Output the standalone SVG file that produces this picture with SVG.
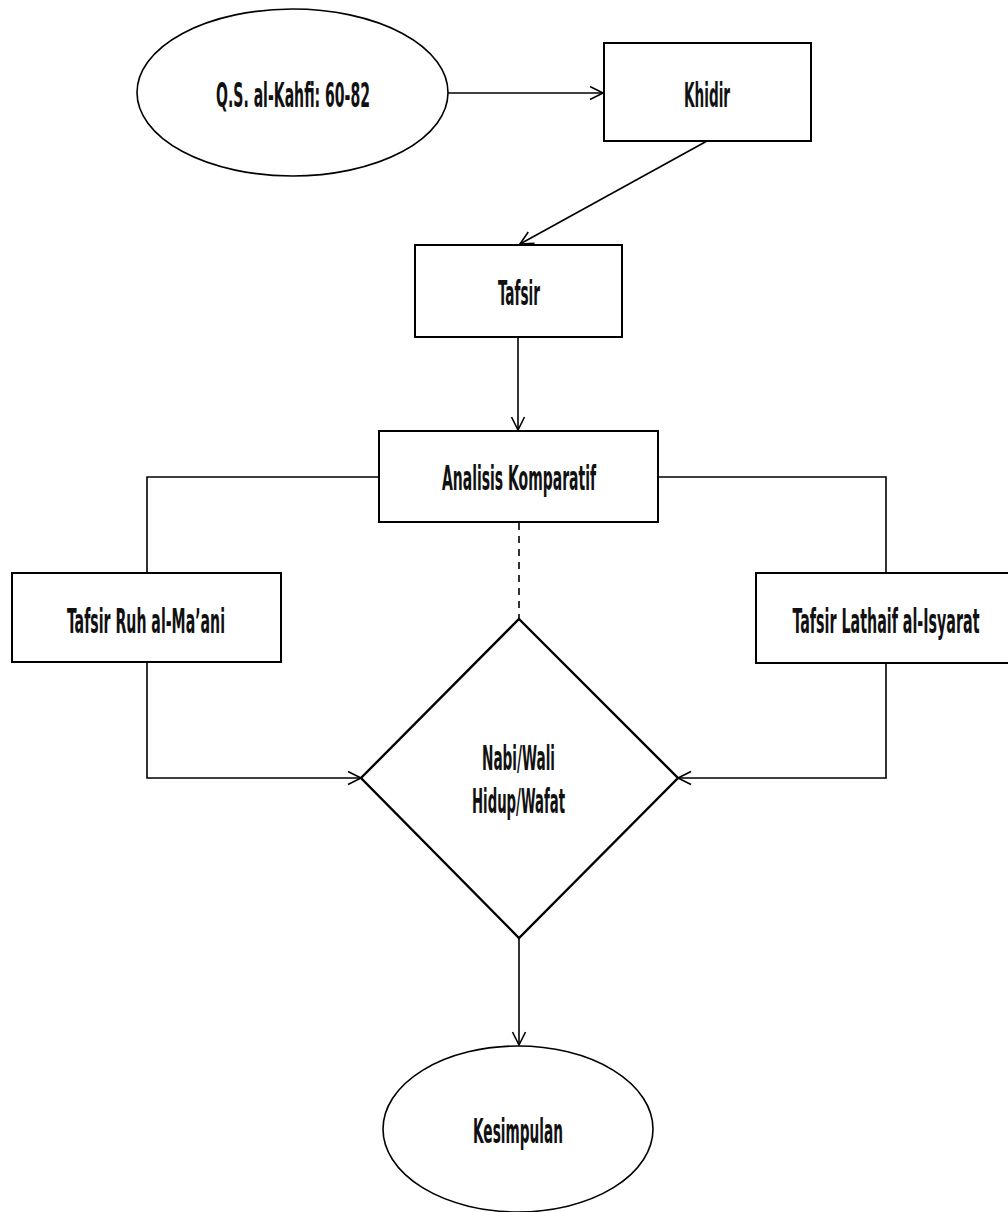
<svg xmlns="http://www.w3.org/2000/svg" width="1008" height="1212" viewBox="0 0 1008 1212">
<style>
.shape{fill:#fff;stroke:#000;stroke-width:2}
.ell{fill:#fff;stroke:#000;stroke-width:1.6}
.dia{fill:#fff;stroke:#000;stroke-width:2.4}
.conn{fill:none;stroke:#000;stroke-width:1.6}
.dash{stroke-dasharray:7 6}
.lbl{font-family:"DejaVu Sans Condensed","DejaVu Sans",sans-serif;font-weight:bold;font-size:33px;fill:#111;text-anchor:middle}
</style>
<defs>
<marker id="arr" markerUnits="userSpaceOnUse" markerWidth="16" markerHeight="16" refX="14" refY="7" orient="auto" overflow="visible">
<path d="M1,0.5 L14,7 L1,13.5" fill="none" stroke="#000" stroke-width="1.6"/>
</marker>
</defs>
<rect width="1008" height="1212" fill="#fff"/>
<g id="connectors">
<line class="conn" x1="448" y1="93" x2="603" y2="93" marker-end="url(#arr)"/>
<line class="conn" x1="707" y1="141" x2="520" y2="244" marker-end="url(#arr)"/>
<line class="conn" x1="518" y1="337" x2="518" y2="430" marker-end="url(#arr)"/>
<polyline class="conn" points="379,477 147,477 147,573"/>
<polyline class="conn" points="658,477 886,477 886,573"/>
<line class="conn dash" x1="519" y1="523" x2="519" y2="619"/>
<polyline class="conn" points="147,663 147,778 361,778" marker-end="url(#arr)"/>
<polyline class="conn" points="886,663 886,778 678,778" marker-end="url(#arr)"/>
<line class="conn" x1="519" y1="938" x2="519" y2="1045" marker-end="url(#arr)"/>
</g>
<g id="node-qs">
<ellipse class="ell" cx="292.5" cy="92.5" rx="155.5" ry="83.5"/>
<text class="lbl" x="293" y="107" textLength="154" lengthAdjust="spacingAndGlyphs">Q.S. al-Kahfi: 60-82</text>
</g>
<g id="node-khidir">
<rect class="shape" x="604" y="43" width="207" height="98"/>
<text class="lbl" x="707" y="107" textLength="46" lengthAdjust="spacingAndGlyphs">Khidir</text>
</g>
<g id="node-tafsir">
<rect class="shape" x="415" y="245" width="207" height="92"/>
<text class="lbl" x="519" y="305" textLength="42" lengthAdjust="spacingAndGlyphs">Tafsir</text>
</g>
<g id="node-analisis">
<rect class="shape" x="379" y="431" width="279" height="91"/>
<text class="lbl" x="519" y="490" textLength="154" lengthAdjust="spacingAndGlyphs">Analisis Komparatif</text>
</g>
<g id="node-ruh">
<rect class="shape" x="12" y="573" width="269" height="89"/>
<text class="lbl" x="146" y="633" textLength="158" lengthAdjust="spacingAndGlyphs">Tafsir Ruh al-Ma’ani</text>
</g>
<g id="node-lathaif">
<rect class="shape" x="756" y="573" width="262" height="90"/>
<text class="lbl" x="886" y="633" textLength="187" lengthAdjust="spacingAndGlyphs">Tafsir Lathaif al-Isyarat</text>
</g>
<g id="node-decision">
<polygon class="dia" points="519,619 678,778 519,938 361,778"/>
<text class="lbl" x="518.5" y="770" textLength="73" lengthAdjust="spacingAndGlyphs">Nabi/Wali</text>
<text class="lbl" x="518.5" y="813" textLength="93" lengthAdjust="spacingAndGlyphs">Hidup/Wafat</text>
</g>
<g id="node-kesimpulan">
<ellipse class="ell" cx="518" cy="1129" rx="135" ry="83"/>
<text class="lbl" x="518" y="1143" textLength="90" lengthAdjust="spacingAndGlyphs">Kesimpulan</text>
</g>
</svg>
